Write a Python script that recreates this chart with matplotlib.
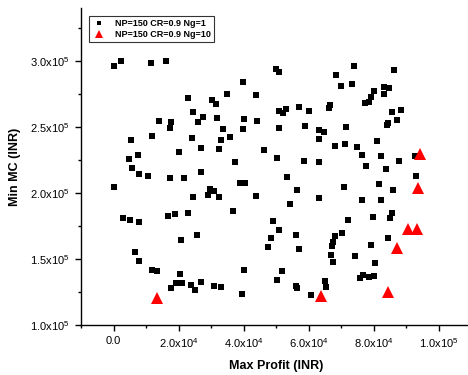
import matplotlib
matplotlib.use("Agg")
import matplotlib.pyplot as plt
from matplotlib.ticker import FixedLocator, MultipleLocator, FuncFormatter
import numpy as np

plt.rcParams['font.family'] = ['Liberation Sans', 'DejaVu Sans']
plt.rcParams['mathtext.fontset'] = 'custom'
plt.rcParams['mathtext.rm'] = 'Liberation Sans'
plt.rcParams['mathtext.it'] = 'Liberation Sans:italic'
plt.rcParams['mathtext.bf'] = 'Liberation Sans:bold'

# Series 1: NP=150 CR=0.9 Ng=1  (profit in units of 1e4 INR, MC in units of 1e5 INR)
ng1_profit_1e4 = [
    0.03, 0.23, 1.15, 1.63, 2.30, 3.02, 3.15, 2.44, 2.76, 3.19,
    1.41, 1.78, 2.61, 1.74, 0.54, 1.17, 2.41, 3.32, 2.70, 3.25,
    2.03, 0.48, 0.76, 0.58, 0.77, 1.06, 1.75, 2.17, 2.69, 0.03,
    2.98, 3.10, 2.90, 3.25, 2.46, 0.29, 0.50, 0.78, 1.68, 1.89,
    2.29, 2.58, 2.09, 0.66, 0.78, 1.18, 1.34, 2.05, 1.91, 2.10,
    1.78, 2.39, 2.50, 2.69, 3.08, 3.30,
    5.01, 5.10, 3.98, 3.49, 4.37, 5.09, 5.22, 5.31, 5.72, 6.01,
    6.62, 6.67, 4.00, 4.41, 3.38, 3.99, 5.08, 5.88, 6.33, 6.48,
    6.32, 3.58, 4.64, 5.03, 3.74, 5.87, 6.33, 5.35, 3.90, 4.06,
    5.66, 4.39, 6.32, 5.44, 3.67, 4.90, 5.08, 5.63, 4.85, 4.76,
    5.70, 4.01, 5.18, 5.04, 3.94, 5.61, 5.66, 6.52, 6.53, 6.09,
    7.40, 6.85, 8.63, 7.01, 7.34, 8.00, 7.93, 7.86, 7.74, 8.31,
    8.48, 8.33, 8.57, 8.86, 8.73, 8.46, 8.42, 7.15, 8.10, 6.80,
    7.12, 7.49, 7.64, 8.22, 8.79, 9.27, 7.78, 8.37, 9.31, 7.08,
    8.17, 8.61, 7.65, 8.24, 8.57, 8.51, 7.97, 7.20, 6.80, 7.02,
    6.75, 6.73, 8.46, 7.92, 6.68, 6.75, 7.43, 8.06, 7.57, 7.68,
    7.86, 8.02,
]
ng1_mc_1e5 = [
    2.962, 2.995, 2.985, 2.995, 2.720, 2.701, 2.674, 2.614, 2.576, 2.570,
    2.545, 2.538, 2.538, 2.490, 2.399, 2.430, 2.417, 2.402, 2.341, 2.331,
    2.308, 2.255, 2.286, 2.192, 2.146, 2.129, 2.116, 2.111, 2.157, 2.042,
    2.030, 2.015, 1.985, 1.966, 1.972, 1.808, 1.798, 1.778, 1.828, 1.841,
    1.851, 1.684, 1.642, 1.553, 1.485, 1.419, 1.409, 1.384, 1.318, 1.316,
    1.278, 1.301, 1.263, 1.323, 1.295, 1.286,
    2.937, 2.919, 2.841, 2.752, 2.745, 2.621, 2.604, 2.636, 2.652, 2.619,
    2.640, 2.664, 2.558, 2.543, 2.483, 2.487, 2.495, 2.510, 2.477, 2.464,
    2.411, 2.422, 2.323, 2.267, 2.235, 2.240, 2.233, 2.123, 2.077, 2.076,
    2.023, 1.977, 1.962, 1.914, 1.861, 1.786, 1.717, 1.680, 1.659, 1.593,
    1.576, 1.414, 1.411, 1.343, 1.237, 1.295, 1.278, 1.336, 1.284, 1.225,
    2.960, 2.894, 2.927, 2.808, 2.828, 2.770, 2.727, 2.689, 2.680, 2.805,
    2.793, 2.752, 2.616, 2.631, 2.553, 2.528, 2.515, 2.502, 2.392, 2.356,
    2.373, 2.351, 2.290, 2.280, 2.242, 2.280, 2.205, 2.178, 2.129, 2.042,
    2.068, 2.019, 1.945, 1.949, 1.851, 1.813, 1.816, 1.793, 1.674, 1.697,
    1.627, 1.596, 1.657, 1.604, 1.530, 1.477, 1.523, 1.467, 1.356, 1.377,
    1.366, 1.371,
]

# Series 2: NP=150 CR=0.9 Ng=10
ng10_profit_1e4 = [1.34, 6.39, 8.44, 8.72, 9.05, 9.35, 9.38, 9.43]
ng10_mc_1e5 = [1.207, 1.220, 1.252, 1.586, 1.727, 1.727, 2.040, 2.293]

labels = ['NP=150 CR=0.9 Ng=1', 'NP=150 CR=0.9 Ng=10']
x_label = 'Max Profit (INR)'
y_label = 'Min MC (INR)'

x1 = np.array(ng1_profit_1e4) * 1e4
y1 = np.array(ng1_mc_1e5) * 1e5
x2 = np.array(ng10_profit_1e4) * 1e4
y2 = np.array(ng10_mc_1e5) * 1e5

fig = plt.figure(figsize=(4.68, 3.75), dpi=100)
ax = fig.add_axes([81/468, 50/375, 390/468, 317/375])

ax.plot(x1, y1, linestyle='none', marker='s', markersize=4.5, color='black',
        markeredgewidth=0, label=labels[0])
ax.plot(x2, y2, linestyle='none', marker='^', markersize=8.3, color='red',
        markeredgewidth=0, label=labels[1])

ax.set_xlim(-1e4, 1.1e5)
ax.set_ylim(1.0e5, 3.4e5)

for s in ['top', 'right']:
    ax.spines[s].set_visible(False)
for s in ['left', 'bottom']:
    ax.spines[s].set_linewidth(1.0)

ax.xaxis.set_major_locator(FixedLocator([0, 2e4, 4e4, 6e4, 8e4, 1e5]))
ax.xaxis.set_minor_locator(MultipleLocator(1e4))
ax.yaxis.set_major_locator(FixedLocator([1e5, 1.5e5, 2e5, 2.5e5, 3e5]))
ax.yaxis.set_minor_locator(MultipleLocator(0.25e5))

def fmt(v, pos):
    if abs(v) < 1e-9:
        return '0.0'
    e = int(np.floor(np.log10(abs(v))))
    m = v / 10**e
    return r'%.1fx10$^{%d}$' % (m, e)

ax.xaxis.set_major_formatter(FuncFormatter(fmt))
ax.yaxis.set_major_formatter(FuncFormatter(fmt))
ax.tick_params(axis='both', which='major', direction='out', length=4, width=1.0,
               labelsize=8, pad=4)
ax.tick_params(axis='both', which='minor', direction='out', length=2.5, width=1.0)

ax.set_xlabel(x_label, fontsize=9, fontweight='bold', labelpad=7)
ax.set_ylabel(y_label, fontsize=9, fontweight='bold', labelpad=7)

leg = ax.legend(loc='upper left', bbox_to_anchor=(8/390, 1 - 8/317),
                fontsize=6.5, frameon=True, fancybox=False,
                edgecolor='black', borderpad=0.35, labelspacing=0.2,
                handlelength=1.5, handletextpad=1.0, borderaxespad=0,
                markerscale=0.7)
leg.get_frame().set_linewidth(0.8)
for t in leg.get_texts():
    t.set_fontweight('bold')

fig.savefig('out.png', dpi=100)
